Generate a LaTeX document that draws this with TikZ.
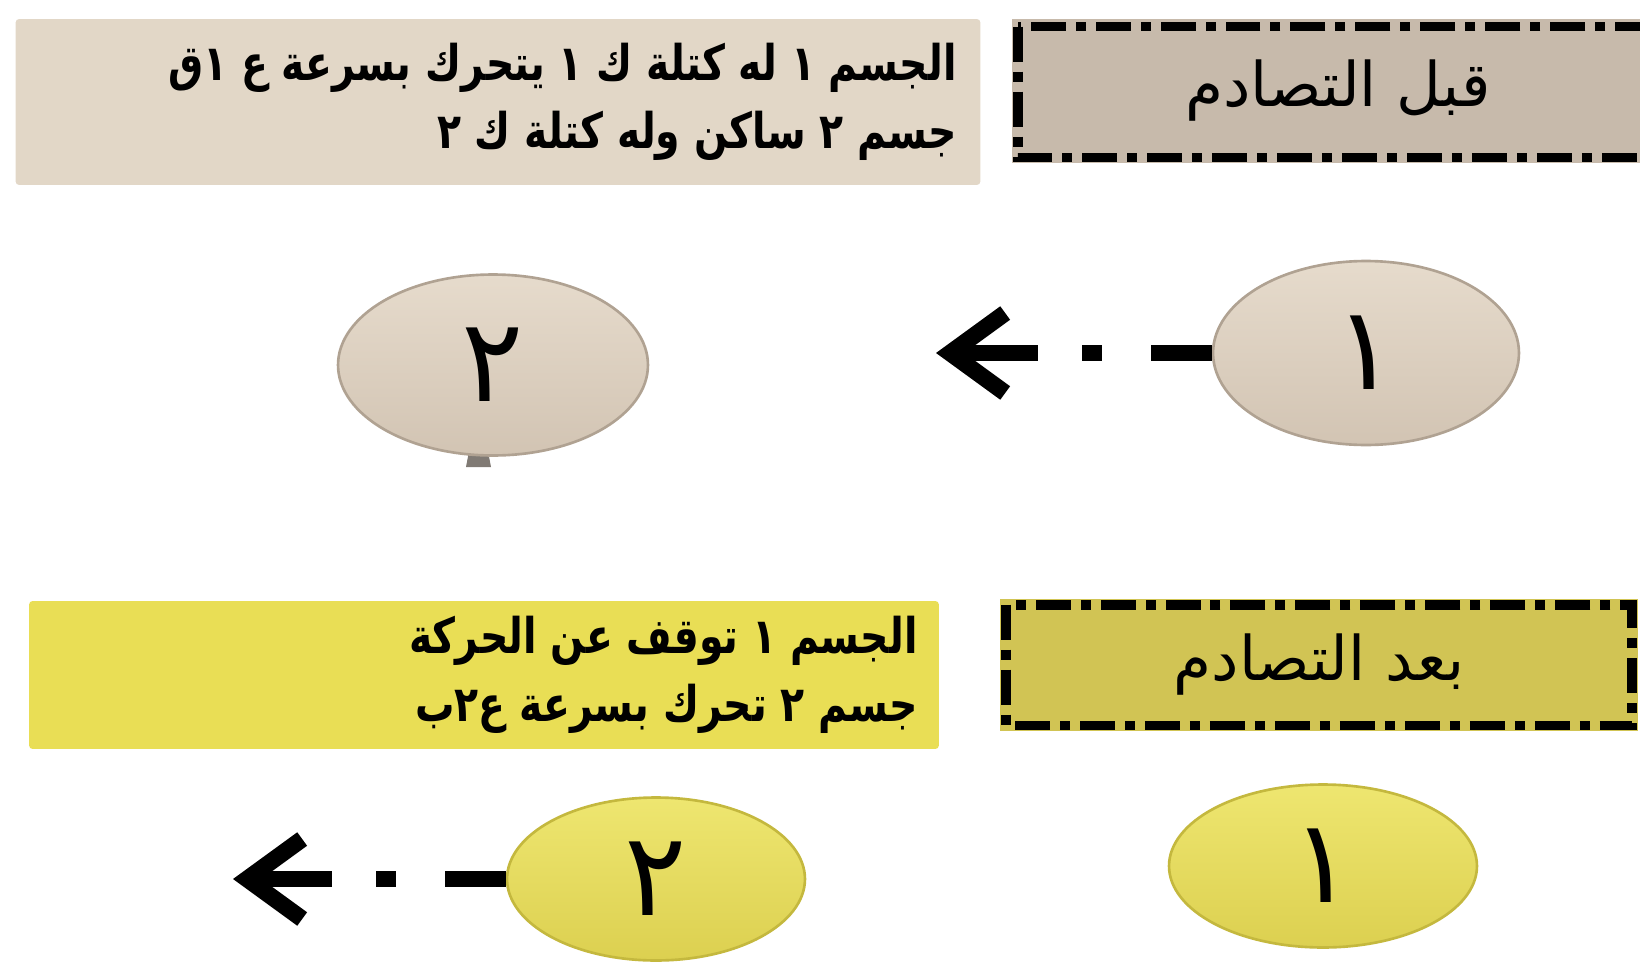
\documentclass[tikz,border=0pt]{standalone}
\usepackage{fontspec}
\usepackage{xcolor}
\usepackage{tikz}
\usetikzlibrary{arrows.meta,shapes.geometric}
\newfontfamily\arabicfont[Script=Arabic]{DejaVu Sans}
\newfontfamily\notefont[Script=Arabic,FakeStretch=0.8]{DejaVu Sans}
\TeXXeTstate=1
\definecolor{beforenote}{RGB}{226,215,199}
\definecolor{beforehdr}{RGB}{199,186,171}
\definecolor{beforetop}{RGB}{230,219,204}
\definecolor{beforebot}{RGB}{210,196,179}
\definecolor{beforeedge}{RGB}{176,162,146}
\definecolor{afternote}{RGB}{233,222,85}
\definecolor{afterhdr}{RGB}{209,196,84}
\definecolor{aftertop}{RGB}{238,230,112}
\definecolor{afterbot}{RGB}{220,208,80}
\definecolor{afteredge}{RGB}{196,184,62}
\definecolor{tabgray}{RGB}{128,122,116}
\tikzset{
  body/.style={ellipse,draw,line width=1.5pt,inner sep=0pt,
    font=\arabicfont\fontsize{66}{66}\selectfont},
  notebox/.style={rectangle,rounded corners=2pt,inner sep=0pt},
  notetext/.style={anchor=east,align=right,inner sep=0pt,
    font=\notefont\bfseries\fontsize{28}{38.6}\selectfont},
  phasebox/.style={rectangle,inner sep=0pt,
    font=\arabicfont\fontsize{35}{35}\selectfont},
  phaseline/.style={line width=5.5pt,
    dash pattern=on 0.7cm off 0.2cm on 0.2cm off 0.2cm},
  motion/.style={line width=9.5pt,
    dash pattern=on 1.22cm off 0.98cm on 0.40cm off 0.88cm on 8cm off 0cm,
    -{Straight Barb[length=1.1cm,width=1.6cm]}}
}
\begin{document}
\begin{tikzpicture}[x=0.02cm,y=-0.02cm]
  \useasboundingbox (0,0) rectangle (1640,967);

  \node[notebox,fill=beforenote,minimum width=19.3cm,minimum height=3.32cm] (note1) at (498,102) {};
  \node[notetext] (note1txt) at (957,102)
    {\beginR الجسم ١ له كتلة ك ١ يتحرك بسرعة ع ١ق\endR\\
     \beginR جسم ٢ ساكن وله كتلة ك ٢\endR};
  \node[phasebox,fill=beforehdr,minimum width=13.04cm,minimum height=2.88cm] (phase1) at (1338,91)
    {\beginR قبل التصادم\endR};
  \draw[phaseline] ([shift={(6,8)}]phase1.north west) rectangle ([shift={(-6,-6)}]phase1.south east);

  \fill[tabgray] (470,446) -- (487,446) -- (491,467) -- (466,467) -- cycle;
  \node[body,draw=beforeedge,top color=beforetop,bottom color=beforebot,
    minimum width=6.2cm,minimum height=3.62cm] (b2) at (493,365) {٢};
  \node[body,draw=beforeedge,top color=beforetop,bottom color=beforebot,
    minimum width=6.12cm,minimum height=3.68cm] (b1) at (1366,353) {١};
  \coordinate (tip1) at (936,353);
  \draw[motion] (b1.west) -- (tip1);

  \node[notebox,fill=afternote,minimum width=18.2cm,minimum height=2.96cm] (note2) at (484,675) {};
  \node[notetext] (note2txt) at (918,675)
    {\beginR الجسم ١ توقف عن الحركة\endR\\
     \beginR جسم ٢ تحرك بسرعة ع٢ب\endR};
  \node[phasebox,fill=afterhdr,minimum width=12.76cm,minimum height=2.64cm] (phase2) at (1319,665)
    {\beginR بعد التصادم\endR};
  \draw[phaseline] ([shift={(6,6)}]phase2.north west) rectangle ([shift={(-6,-6)}]phase2.south east);

  \node[body,draw=afteredge,top color=aftertop,bottom color=afterbot,
    minimum width=5.96cm,minimum height=3.26cm] (a2) at (656,879) {٢};
  \node[body,draw=afteredge,top color=aftertop,bottom color=afterbot,
    minimum width=6.16cm,minimum height=3.26cm] (a1) at (1323,866) {١};
  \coordinate (tip2) at (233,879);
  \draw[motion] (a2.west) -- (tip2);
\end{tikzpicture}
\end{document}
